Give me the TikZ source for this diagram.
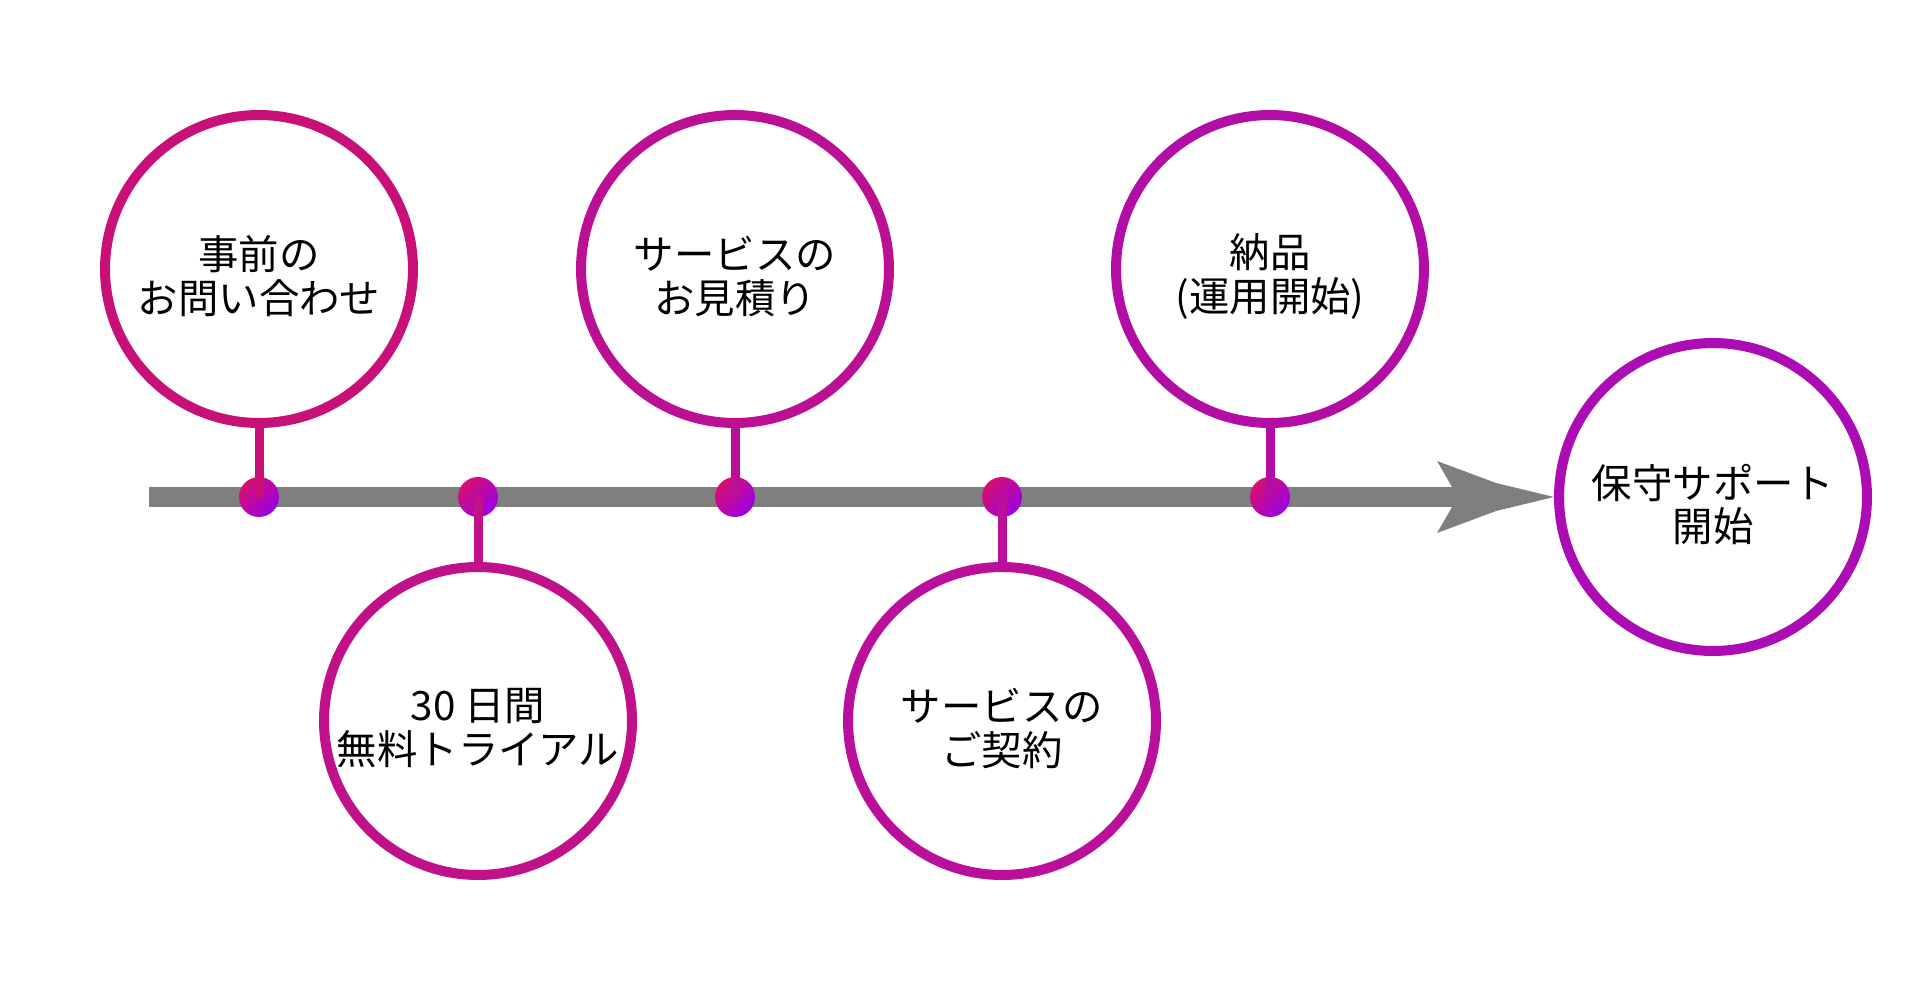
\documentclass[tikz,border=0pt]{standalone}
\usepackage{fontspec}
\setmainfont{Noto Sans CJK JP}
\usepackage{xcolor}
\definecolor{linegray}{RGB}{127,127,127}
\definecolor{ringone}{RGB}{200,17,120}
\definecolor{ringtwo}{RGB}{192,16,138}
\definecolor{ringthree}{RGB}{188,16,148}
\definecolor{ringfour}{RGB}{185,15,155}
\definecolor{ringfive}{RGB}{178,14,165}
\definecolor{ringsix}{RGB}{172,12,180}
\definecolor{dotstart}{RGB}{215,15,110}
\definecolor{dotend}{RGB}{155,0,230}
\tikzset{
    stepcircle/.style={circle, draw, fill=white, line width=0.2cm, minimum size=6.16cm,
        inner sep=0pt},
    steptext/.style={align=center, yshift=-0.15cm, font=\fontsize{23}{25}\selectfont},
    joint/.style={circle, minimum size=0.8cm, inner sep=0pt,
        top color=dotstart, bottom color=dotend, shading angle=45},
    stem/.style={line width=0.18cm},
    timeline/.style={draw=linegray, line width=0.4cm}
}

\begin{document}
\begin{tikzpicture}[x=0.02cm, y=-0.02cm]
    \useasboundingbox (0,0) rectangle (1920,1000);
    % timeline
    \coordinate (start) at (149,497);
    \node[stepcircle, draw=ringsix, label={[steptext]center:{保守サポート\\開始}}] (c6) at (1713,497) {};
    \draw[timeline, shorten >=2cm] (start) -- (c6.west);
    \fill[linegray] (c6.west) -- ++(-58,-14) -- ++(-59,-22) -- ++(15,26) -- ++(0,20)
        -- ++(-15,26) -- ++(59,-22) -- cycle;
    % joints
    \node[joint] (d1) at (259,497) {};
    \node[joint] (d2) at (478,497) {};
    \node[joint] (d3) at (735,497) {};
    \node[joint] (d4) at (1002,497) {};
    \node[joint] (d5) at (1270,497) {};
    % steps
    \node[stepcircle, draw=ringone, label={[steptext]center:{事前の\\お問い合わせ}}] (c1) at (259,269) {};
    \node[stepcircle, draw=ringtwo, label={[steptext]center:{30 日間\\無料トライアル}}] (c2) at (478,721) {};
    \node[stepcircle, draw=ringthree, label={[steptext]center:{サービスの\\お見積り}}] (c3) at (735,269) {};
    \node[stepcircle, draw=ringfour, label={[steptext]center:{サービスの\\ご契約}}] (c4) at (1002,721) {};
    \node[stepcircle, draw=ringfive, label={[steptext]center:{納品\\(運用開始)}}] (c5) at (1270,269) {};
    % stems
    \draw[stem, ringone] (c1.south) -- (d1.center);
    \draw[stem, ringtwo] (c2.north) -- (d2.center);
    \draw[stem, ringthree] (c3.south) -- (d3.center);
    \draw[stem, ringfour] (c4.north) -- (d4.center);
    \draw[stem, ringfive] (c5.south) -- (d5.center);
\end{tikzpicture}
\end{document}
